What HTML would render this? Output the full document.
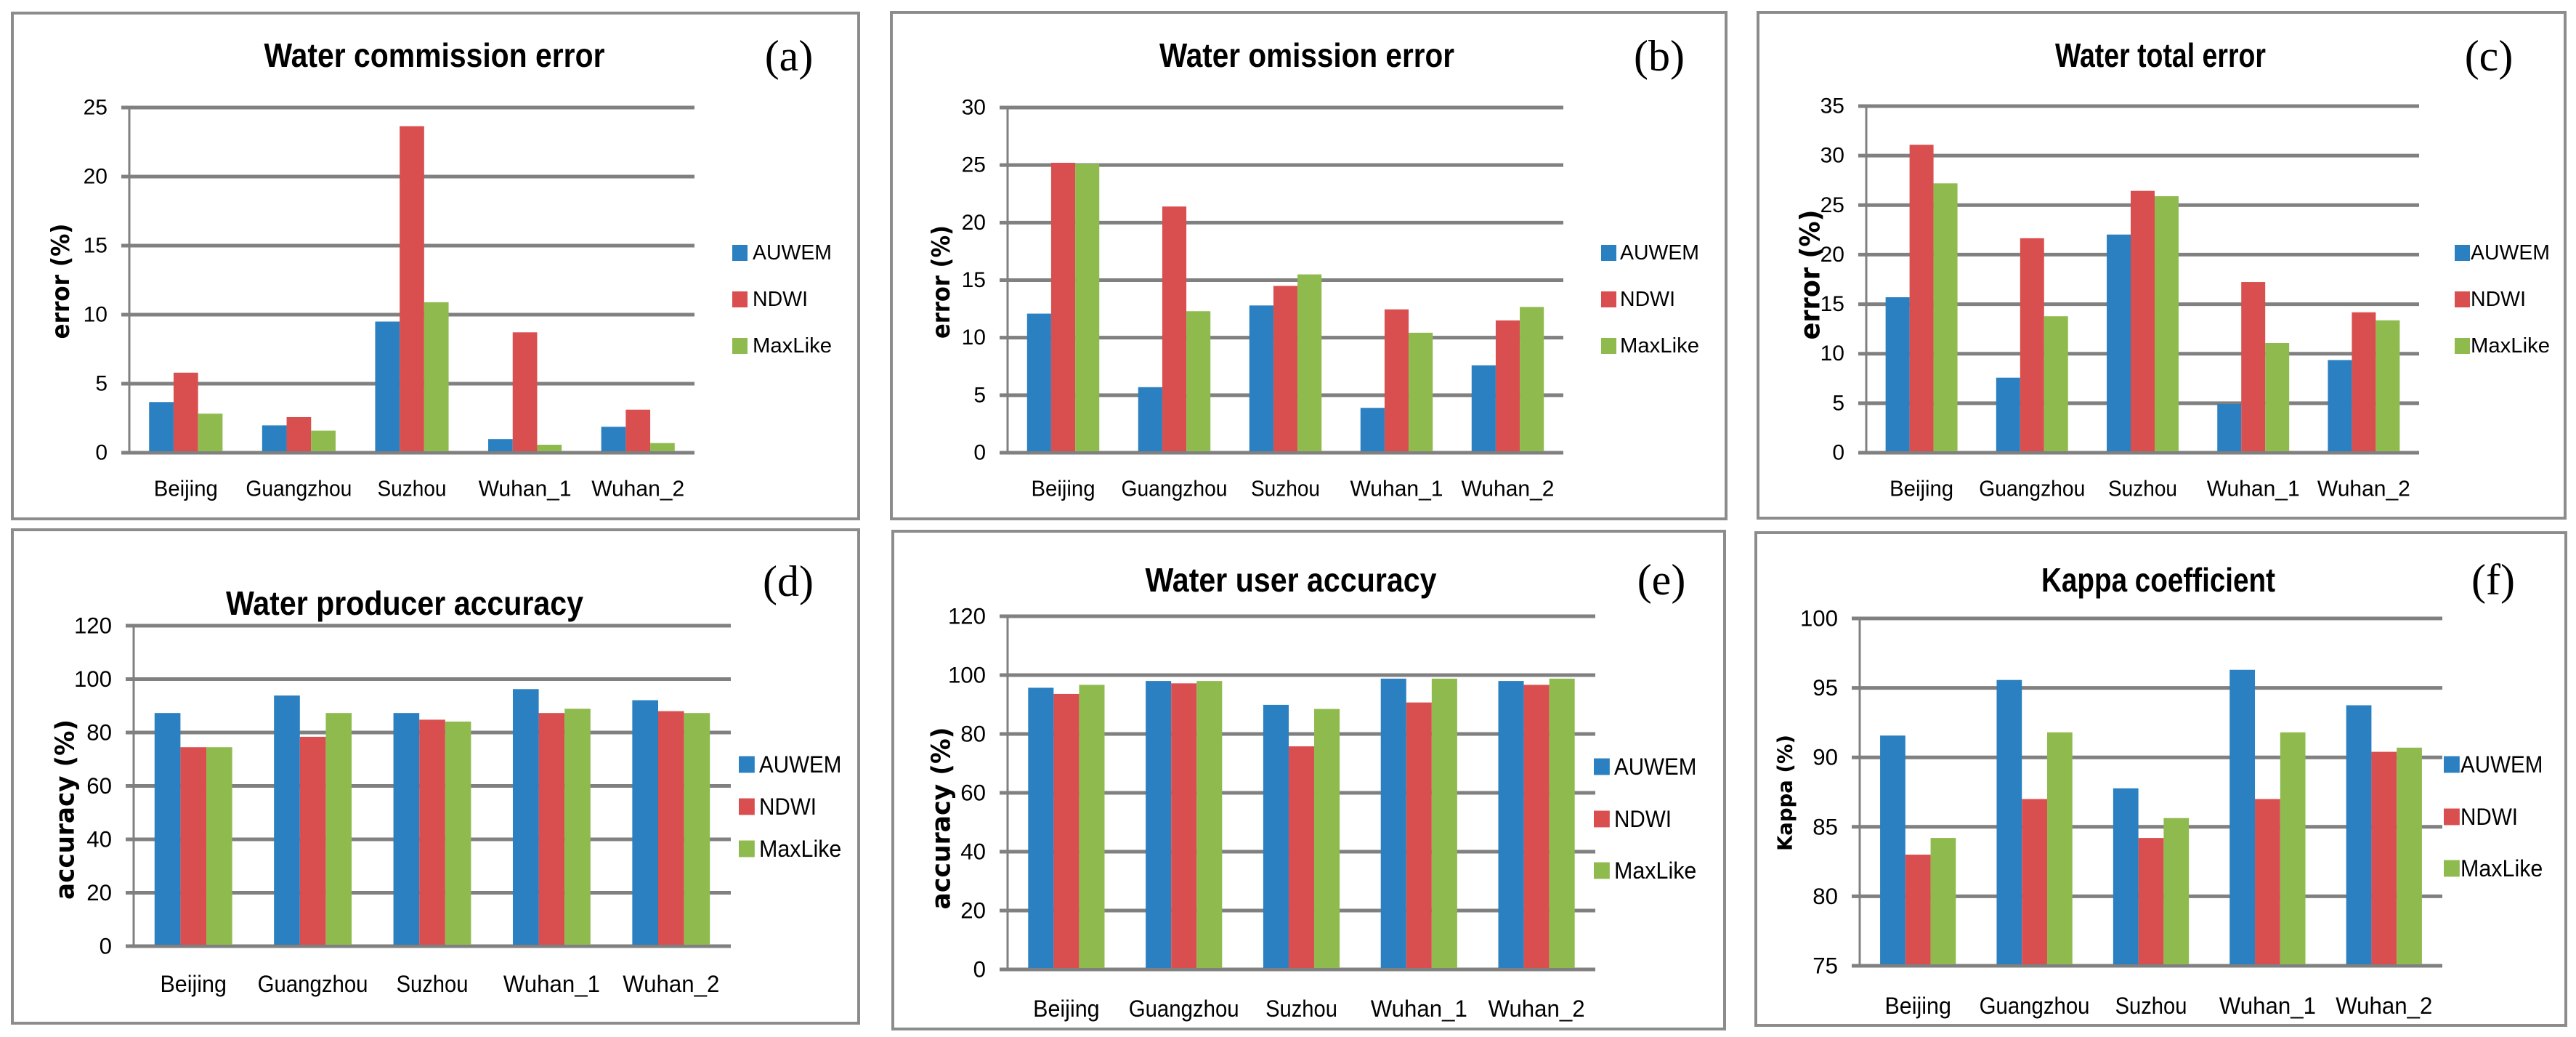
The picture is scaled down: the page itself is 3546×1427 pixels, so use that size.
<!DOCTYPE html>
<html><head><meta charset="utf-8"><style>
html,body{margin:0;padding:0;background:#fff;}
svg{display:block;}
text{font-family:"Liberation Sans Narrow","Liberation Sans",sans-serif;fill:#000;}
</style></head><body>
<svg id="fig" xmlns="http://www.w3.org/2000/svg" width="3546" height="1427" viewBox="0 0 3546 1427"></svg>
<script>
const categories = ["Beijing","Guangzhou","Suzhou","Wuhan_1","Wuhan_2"];
const seriesNames = ["AUWEM","NDWI","MaxLike"];
const commissionAUWEM = [3.67,1.98,9.5,0.99,1.88];
const commissionNDWI = [5.8,2.58,23.65,8.72,3.12];
const commissionMaxLike = [2.83,1.6,10.9,0.58,0.7];
const omissionAUWEM = [12.09,5.7,12.8,3.9,7.6];
const omissionNDWI = [25.2,21.4,14.5,12.46,11.5];
const omissionMaxLike = [25.1,12.3,15.5,10.43,12.67];
const totalAUWEM = [15.7,7.58,22.03,4.92,9.36];
const totalNDWI = [31.1,21.66,26.44,17.24,14.18];
const totalMaxLike = [27.2,13.78,25.9,11.08,13.37];
const producerAUWEM = [87.3,93.85,87.3,96.25,92.1];
const producerNDWI = [74.5,78.4,84.8,87.3,88.0];
const producerMaxLike = [74.5,87.3,84.1,88.9,87.3];
const userAUWEM = [95.7,98.0,89.9,98.8,98.0];
const userNDWI = [93.6,97.2,75.8,90.7,96.7];
const userMaxLike = [96.7,98.0,88.5,98.8,98.8];
const kappaAUWEM = [91.57,95.57,87.77,96.3,93.75];
const kappaNDWI = [83.0,87.0,84.2,87.0,90.4];
const kappaMaxLike = [84.2,91.8,85.63,91.8,90.7];
const ticksA = [0,5,10,15,20,25];
const ticksB = [0,5,10,15,20,25,30];
const ticksC = [0,5,10,15,20,25,30,35];
const ticksD = [0,20,40,60,80,100,120];
const ticksE = [0,20,40,60,80,100,120];
const ticksF = [75,80,85,90,95,100];

const colors = ["#2a80c0","#d94f4f","#8fbb4e"];
const NS = "http://www.w3.org/2000/svg";
const svg = document.getElementById("fig");
function mk(tag, attrs, parent, txt){
  const e = document.createElementNS(NS, tag);
  for (const k in attrs) e.setAttribute(k, attrs[k]);
  if (txt !== undefined) e.textContent = txt;
  (parent || svg).appendChild(e);
  return e;
}
const catLen = [88,146,95,128,128];
const legLen = [109,76,109];

const panels = [
 {id:"a", title:"Water commission error", series:[commissionAUWEM,commissionNDWI,commissionMaxLike], ticks:ticksA,
  box:[17,18,1182,714], ax:178, gr:956, yT:148, yB:623, tx:598, ty:76, tw:469, lx:1086, ly:77,
  yt:"error (%)", ytx:84, yty:387, ytl:159, yfs:34, lsq:1008, ltx:1036, rows:[348,412,476], caty:672, sc:1, fs:29},
 {id:"b", title:"Water omission error", series:[omissionAUWEM,omissionNDWI,omissionMaxLike], ticks:ticksB,
  box:[1227,17,2376,714], ax:1387, gr:2152, yT:148, yB:623, tx:1799, ty:76, tw:406, lx:2284, ly:77,
  yt:"error (%)", ytx:1296, yty:388, ytl:156, yfs:34, lsq:2204, ltx:2230, rows:[348,412,476], caty:672, sc:1, fs:29},
 {id:"c", title:"Water total error", series:[totalAUWEM,totalNDWI,totalMaxLike], ticks:ticksC,
  box:[2420,17,3531,713], ax:2569, gr:3330, yT:146, yB:623, tx:2974, ty:76, tw:290, lx:3426, ly:77,
  yt:"error (%)", ytx:2492, yty:378, ytl:179, yfs:37, lsq:3379, ltx:3401, rows:[348,412,476], caty:672, sc:1, fs:29},
 {id:"d", title:"Water producer accuracy", series:[producerAUWEM,producerNDWI,producerMaxLike], ticks:ticksD,
  box:[17,729,1182,1408], ax:184, gr:1006, yT:861, yB:1302, tx:557, ty:830, tw:492, lx:1085, ly:800,
  yt:"accuracy (%)", ytx:90, yty:1114, ytl:248, yfs:36, lsq:1017, ltx:1045, rows:[1052,1110,1168], caty:1354, sc:1.04, fs:32},
 {id:"e", title:"Water user accuracy", series:[userAUWEM,userNDWI,userMaxLike], ticks:ticksE,
  box:[1229,731,2374,1416], ax:1387, gr:2196, yT:848, yB:1334, tx:1777, ty:798, tw:401, lx:2287, ly:798,
  yt:"accuracy (%)", ytx:1296, yty:1126, ytl:251, yfs:36, lsq:2194, ltx:2222, rows:[1055,1127,1198], caty:1388, sc:1.04, fs:32},
 {id:"f", title:"Kappa coefficient", series:[kappaAUWEM,kappaNDWI,kappaMaxLike], ticks:ticksF,
  box:[2417,733,3532,1411], ax:2560, gr:3362, yT:851, yB:1329, tx:2971, ty:798, tw:322, lx:3432, ly:798,
  yt:"Kappa (%)", ytx:2457, yty:1091, ytl:160, yfs:28, lsq:3364, ltx:3387, rows:[1052,1124,1195], caty:1384, sc:1.04, fs:32}
];

panels.forEach(p => {
  const g = mk("g", {});
  
  
  const [x0,y0,x1,y1] = p.box;
  const frame = mk("rect", {x:x0, y:y0, width:x1-x0, height:y1-y0, fill:"#fff", stroke:"#8c8c8c", "stroke-width":4}, g);
  
  
  const tmin = p.ticks[0], tmax = p.ticks[p.ticks.length-1];
  const yS = v => p.yB - (v - tmin) / (tmax - tmin) * (p.yB - p.yT);
  // gridlines + tick labels
  p.ticks.forEach(t => {
    const ln = mk("line", {x1:p.ax-11, x2:p.gr, y1:yS(t), y2:yS(t), stroke:"#808080", "stroke-width":5}, g);
    
    
    const tl = mk("text", {x:p.ax-30, y:yS(t), "text-anchor":"end", "dominant-baseline":"central", "font-size":30*p.sc}, g, String(t));
    
    
  });
  const axl = mk("line", {x1:p.ax, x2:p.ax, y1:p.yT, y2:p.yB, stroke:"#808080", "stroke-width":3}, g);
  
  
  // bars
  const cw = (p.gr - p.ax) / categories.length;
  const bw = cw * 0.65 / 3;
  categories.forEach((c, i) => {
    const cx = p.ax + cw * (i + 0.5);
    p.series.forEach((arr, s) => {
      const v = arr[i];
      const b = mk("rect", {x:cx - 1.5*bw + s*bw, y:yS(v), width:bw, height:p.yB - yS(v) - 2, fill:colors[s]}, g);
      
      
    });
    const cl = mk("text", {x:cx, y:p.caty, "text-anchor":"middle", "dominant-baseline":"central", "font-size":31*p.sc, textLength:catLen[i]*p.sc, lengthAdjust:"spacingAndGlyphs"}, g, c);
    
    
  });
  const tt = mk("text", {x:p.tx, y:p.ty, "text-anchor":"middle", "dominant-baseline":"central", "font-size":46, "font-weight":"bold", textLength:p.tw, lengthAdjust:"spacingAndGlyphs"}, g, p.title);
  
  
  const pl = mk("text", {x:p.lx, y:p.ly, "text-anchor":"middle", "dominant-baseline":"central", "font-size":60, style:"font-family:'Liberation Serif',serif"}, g, "(" + p.id + ")");
  
  
  const yt = mk("text", {x:0, y:0, "text-anchor":"middle", "dominant-baseline":"central", "font-size":p.yfs, "font-weight":"bold", textLength:p.ytl, lengthAdjust:"spacingAndGlyphs", style:"font-family:'DejaVu Sans','Liberation Sans',sans-serif", transform:"translate(" + p.ytx + "," + p.yty + ") rotate(-90)"}, g, p.yt);
  
  
  seriesNames.forEach((n, s) => {
    const sq = mk("rect", {x:p.lsq, y:p.rows[s]-11*p.sc, width:21*p.sc, height:22*p.sc, fill:colors[s]}, g);
    
    
    const lt = mk("text", {x:p.ltx, y:p.rows[s], "dominant-baseline":"central", "font-size":p.fs, textLength:legLen[s]*p.sc, lengthAdjust:"spacingAndGlyphs"}, g, n);
    
    
  });
});
</script>
</body></html>
